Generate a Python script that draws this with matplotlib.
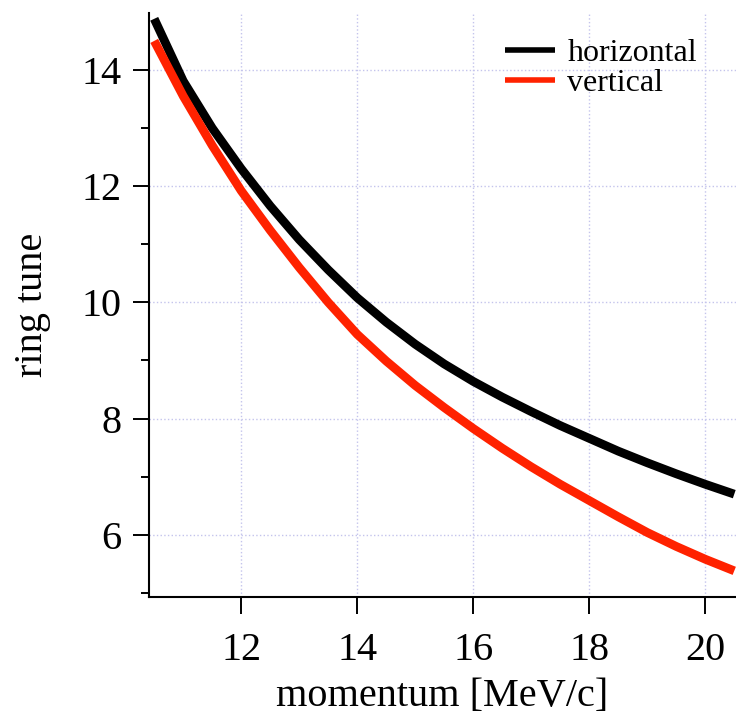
import matplotlib
matplotlib.use("Agg")
import matplotlib.pyplot as plt
from matplotlib.ticker import MultipleLocator

plt.rcParams['font.family'] = ['Liberation Serif', 'DejaVu Serif']

# momentum [MeV/c] and ring tunes
momentum = [10.5, 11.0, 11.5, 12.0, 12.5, 13.0, 13.5, 14.0, 14.5, 15.0, 15.5,
            16.0, 16.5, 17.0, 17.5, 18.0, 18.5, 19.0, 19.5, 20.0, 20.5]
tune_h = [14.88, 13.81, 13.00, 12.30, 11.66, 11.08, 10.56, 10.08, 9.66, 9.28, 8.94,
          8.64, 8.37, 8.12, 7.88, 7.66, 7.44, 7.24, 7.05, 6.87, 6.70]
tune_v = [14.50, 13.55, 12.70, 11.92, 11.24, 10.60, 10.00, 9.45, 8.99, 8.57, 8.19,
          7.83, 7.49, 7.17, 6.87, 6.59, 6.31, 6.04, 5.80, 5.58, 5.38]

fig = plt.figure(figsize=(7.36, 7.15), dpi=100)
ax = fig.add_axes([149/736, 1 - 597/715, 1 - 149/736, (597 - 13)/715])

ax.plot(momentum, tune_h, color='black', lw=6.3, label='horizontal', solid_capstyle='butt')
ax.plot(momentum, tune_v, color='#ff2200', lw=6.3, label='vertical', solid_capstyle='butt')

ax.set_xlim(10.41, 20.53)
ax.set_ylim(4.93, 14.98)

ax.xaxis.set_major_locator(MultipleLocator(2))
ax.yaxis.set_major_locator(MultipleLocator(2))
ax.yaxis.set_minor_locator(MultipleLocator(1))

ax.grid(True, which='major', color='#c4c4ec', ls=':', lw=1)

for s in ['top', 'right']:
    ax.spines[s].set_visible(False)
for s in ['left', 'bottom']:
    ax.spines[s].set_linewidth(1.5)

ax.tick_params(axis='x', which='major', direction='out', length=12, width=1.4, pad=13, labelsize=29)
ax.tick_params(axis='y', which='major', direction='out', length=11.5, width=1.4, pad=8.5, labelsize=29)
ax.tick_params(axis='y', which='minor', direction='out', length=5.5, width=1.4)

ax.set_xlabel('momentum [MeV/c]', fontsize=29, labelpad=7)
ax.set_ylabel('ring tune', fontsize=29, labelpad=22)

leg = ax.legend(loc='upper left', bbox_to_anchor=(505/736, 1 - 39/715),
                bbox_transform=fig.transFigure, frameon=False, fontsize=23,
                handlelength=1.55, handletextpad=0.4, labelspacing=0.0,
                borderaxespad=0, borderpad=0)
for line in leg.get_lines():
    line.set_linewidth(4)

fig.savefig('out.png', dpi=100)
